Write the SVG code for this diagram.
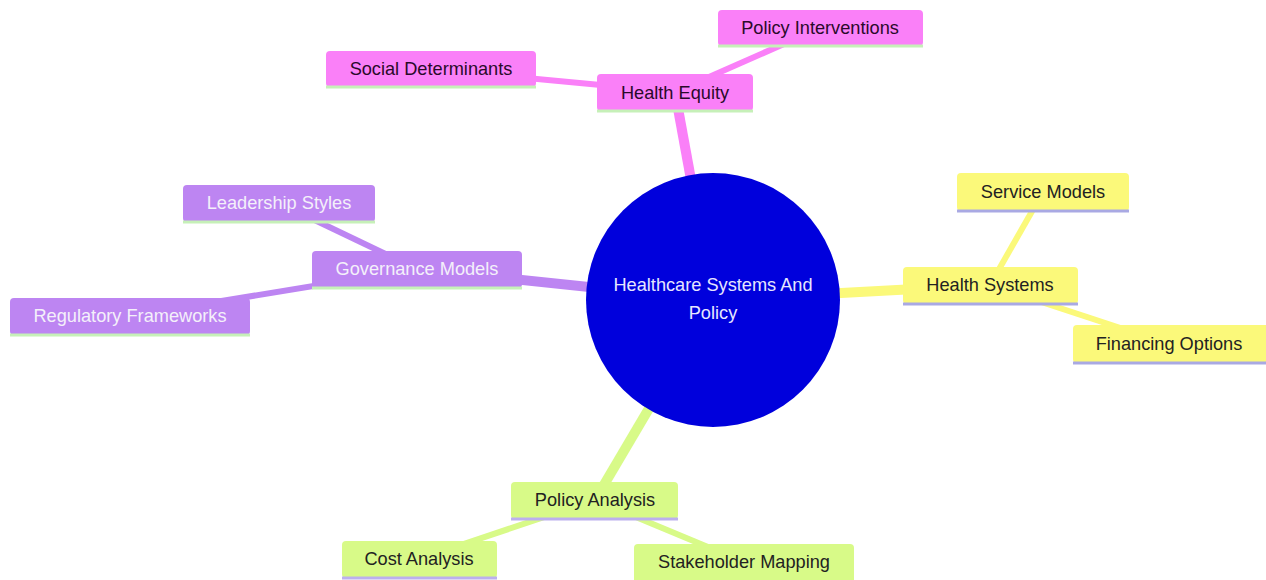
<svg xmlns="http://www.w3.org/2000/svg" width="1266" height="580" viewBox="0 0 1266 580">
<style>
text{font-family:"Liberation Sans",Arial,sans-serif;font-size:18.2px;text-anchor:middle;dominant-baseline:central}
.e0{stroke-linecap:butt;fill:none;stroke-width:10}
.e1{stroke-linecap:butt;fill:none;stroke-width:6}
.pink{fill:#fa80f8}.pinkS{stroke:#fa80f8}
.purp{fill:#bd85f2}.purpS{stroke:#bd85f2}
.yel{fill:#fbf97a}.yelS{stroke:#fbf97a}
.grn{fill:#d8fa88}.grnS{stroke:#d8fa88}
.lg{stroke:#c6f0b8;stroke-width:3}
.lb{stroke:#a9a9e3;stroke-width:3}
.lp{stroke:#bcb0ee;stroke-width:3}
.tp{fill:#2a0a2a}.tw{fill:#f4f0fa}.td{fill:#222222}
</style>
<rect width="1266" height="580" fill="#ffffff"/>
<g id="connectors">
<line class="e0 pinkS" x1="713" y1="300" x2="675" y2="92"/>
<line class="e0 purpS" x1="713" y1="300" x2="417" y2="269"/>
<line class="e0 yelS" x1="713" y1="300" x2="990" y2="285"/>
<line class="e0 grnS" x1="713" y1="300" x2="595" y2="500"/>
<line class="e1 pinkS" x1="675" y1="92" x2="431" y2="69"/>
<line class="e1 pinkS" x1="675" y1="92" x2="820" y2="28"/>
<line class="e1 purpS" x1="417" y1="269" x2="279" y2="203"/>
<line class="e1 purpS" x1="417" y1="269" x2="130" y2="316"/>
<line class="e1 yelS" x1="990" y1="285" x2="1043" y2="192"/>
<line class="e1 yelS" x1="990" y1="285" x2="1169" y2="344"/>
<line class="e1 grnS" x1="595" y1="500" x2="419" y2="559"/>
<line class="e1 grnS" x1="595" y1="500" x2="744" y2="562"/>
</g>
<g id="root">
<circle cx="713" cy="300" r="127" fill="#0000dc"/>
<text x="713" y="285" fill="#e6e6ff">Healthcare Systems And</text>
<text x="713" y="313" fill="#e6e6ff">Policy</text>
</g>
<g id="health-equity">
<rect class="pink" x="597" y="74" width="156" height="37" rx="4"/>
<line class="lg" x1="597" y1="111" x2="753" y2="111"/>
<text class="tp" x="675" y="93">Health Equity</text>
</g>
<g id="policy-interventions">
<rect class="pink" x="718" y="10" width="205" height="36" rx="4"/>
<line class="lg" x1="718" y1="46" x2="923" y2="46"/>
<text class="tp" x="820" y="28">Policy Interventions</text>
</g>
<g id="social-determinants">
<rect class="pink" x="326" y="51" width="210" height="36" rx="4"/>
<line class="lg" x1="326" y1="87" x2="536" y2="87"/>
<text class="tp" x="431" y="69">Social Determinants</text>
</g>
<g id="governance-models">
<rect class="purp" x="312" y="251" width="210" height="37" rx="4"/>
<line class="lg" x1="312" y1="288" x2="522" y2="288"/>
<text class="tw" x="417" y="269">Governance Models</text>
</g>
<g id="leadership-styles">
<rect class="purp" x="183" y="185" width="192" height="37" rx="4"/>
<line class="lg" x1="183" y1="222" x2="375" y2="222"/>
<text class="tw" x="279" y="203">Leadership Styles</text>
</g>
<g id="regulatory-frameworks">
<rect class="purp" x="10" y="298" width="240" height="37" rx="4"/>
<line class="lg" x1="10" y1="335" x2="250" y2="335"/>
<text class="tw" x="130" y="316">Regulatory Frameworks</text>
</g>
<g id="health-systems">
<rect class="yel" x="903" y="267" width="175" height="37" rx="4"/>
<line class="lb" x1="903" y1="304" x2="1078" y2="304"/>
<text class="td" x="990" y="285">Health Systems</text>
</g>
<g id="service-models">
<rect class="yel" x="957" y="173" width="172" height="38" rx="4"/>
<line class="lb" x1="957" y1="211" x2="1129" y2="211"/>
<text class="td" x="1043" y="192">Service Models</text>
</g>
<g id="financing-options">
<rect class="yel" x="1073" y="325" width="197" height="38" rx="4"/>
<line class="lb" x1="1073" y1="363" x2="1266" y2="363"/>
<text class="td" x="1169" y="344">Financing Options</text>
</g>
<g id="policy-analysis">
<rect class="grn" x="511" y="482" width="167" height="37" rx="4"/>
<line class="lp" x1="511" y1="519" x2="678" y2="519"/>
<text class="td" x="595" y="500">Policy Analysis</text>
</g>
<g id="cost-analysis">
<rect class="grn" x="342" y="541" width="155" height="37" rx="4"/>
<line class="lp" x1="342" y1="578" x2="497" y2="578"/>
<text class="td" x="419" y="559">Cost Analysis</text>
</g>
<g id="stakeholder-mapping">
<rect class="grn" x="634" y="544" width="220" height="40" rx="4"/>
<text class="td" x="744" y="562">Stakeholder Mapping</text>
</g>
</svg>
